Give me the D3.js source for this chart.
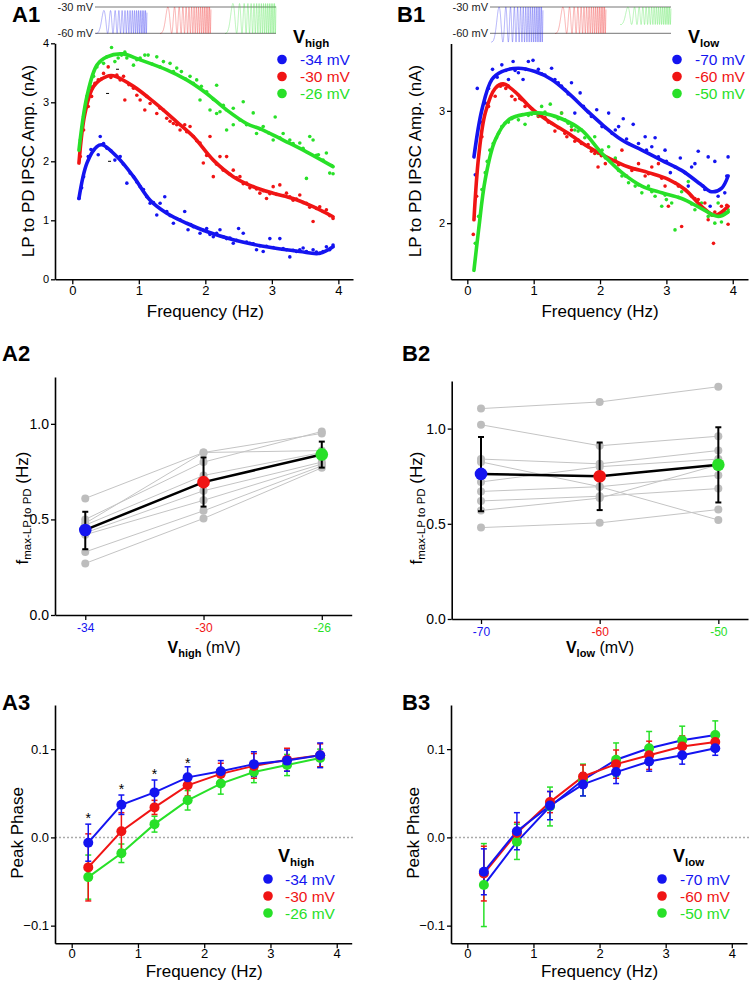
<!DOCTYPE html>
<html><head><meta charset="utf-8">
<script src="https://cdn.jsdelivr.net/npm/d3@7"></script>
<style>body{margin:0;background:#fff}svg{display:block;font-family:Arial,"Liberation Sans",sans-serif}</style>
</head><body><svg id="c" width="750" height="982"></svg>
<script>
const BLUE="#1414f0", RED="#f01414", GREEN="#28e028";
const freqTicks=[0,1,2,3,4];
// ---------- A1 ----------
const a1Labels=["-34 mV","-30 mV","-26 mV"];
const a1FitBlue=[[0.1,1.37],[0.22,1.97],[0.37,2.25],[0.45,2.28],[0.67,2.08],[0.92,1.74],[1.17,1.34],[1.42,1.12],[1.72,0.95],[2.02,0.81],[2.42,0.67],[2.92,0.55],[3.42,0.47],[3.72,0.44],[3.92,0.55]];
const a1FitRed=[[0.1,1.97],[0.19,2.81],[0.32,3.27],[0.52,3.44],[0.62,3.45],[0.92,3.27],[1.22,3.01],[1.57,2.67],[1.82,2.42],[2.12,2.02],[2.42,1.74],[2.72,1.57],[3.02,1.46],[3.32,1.37],[3.62,1.23],[3.92,1.06]];
const a1FitGreen=[[0.1,2.19],[0.22,3.1],[0.37,3.63],[0.52,3.77],[0.75,3.82],[1.02,3.72],[1.42,3.55],[1.72,3.38],[2.02,3.15],[2.32,2.87],[2.62,2.64],[2.87,2.53],[3.17,2.36],[3.52,2.16],[3.92,1.91]];
const a1PtsBlue=[[0.1,1.37],[0.17,1.74],[0.24,2.08],[0.32,2.19],[0.39,2.11],[0.42,2.42],[0.52,2.22],[0.64,2.02],[0.72,2.08],[0.82,1.63],[0.92,1.74],[1.02,1.57],[1.12,1.4],[1.17,1.29],[1.27,1.09],[1.32,1.29],[1.39,1.4],[1.42,1.15],[1.52,0.95],[1.62,1.01],[1.69,1.15],[1.74,0.84],[1.82,0.89],[1.92,0.78],[2.02,0.86],[2.12,0.72],[2.22,0.84],[2.32,0.69],[2.42,0.61],[2.5,0.86],[2.57,0.78],[2.67,0.61],[2.77,0.5],[2.87,0.47],[2.97,0.69],[3.12,0.69],[3.22,0.5],[3.27,0.38],[3.37,0.47],[3.47,0.53],[3.62,0.5],[3.72,0.44],[3.82,0.55],[3.87,0.5],[3.92,0.58],[0.14,1.55],[0.28,2.2],[0.47,2.3],[0.58,2.18],[0.77,1.95],[0.87,1.8],[0.97,1.65],[1.07,1.52],[1.22,1.3],[1.47,1.08],[1.57,1.03],[1.78,0.93],[1.97,0.83],[2.07,0.76],[2.17,0.78],[2.27,0.72],[2.37,0.7],[2.47,0.66],[2.62,0.63],[2.72,0.6],[2.82,0.57],[2.92,0.56],[3.02,0.54],[3.17,0.52],[3.32,0.49],[3.42,0.5],[3.52,0.47],[3.67,0.46],[3.77,0.47]];
const a1PtsRed=[[0.12,2.08],[0.17,2.53],[0.24,2.93],[0.29,3.1],[0.34,3.32],[0.39,3.38],[0.47,3.49],[0.54,3.6],[0.67,3.46],[0.77,3.44],[0.79,3.04],[0.92,3.24],[0.97,3.12],[1.02,3.04],[1.09,2.87],[1.17,2.98],[1.27,2.81],[1.37,2.87],[1.42,2.73],[1.52,2.64],[1.62,2.53],[1.69,2.62],[1.77,2.59],[1.82,2.42],[1.92,2.31],[2.07,2.42],[1.97,1.97],[2.12,1.74],[2.22,2.08],[2.32,2.08],[2.42,1.85],[2.52,1.74],[2.62,1.63],[2.72,1.57],[2.82,1.46],[2.92,1.37],[3.02,1.57],[3.12,1.6],[3.22,1.46],[3.32,1.34],[3.42,1.43],[3.52,1.29],[3.62,0.98],[3.72,1.23],[3.82,1.18],[3.92,1.03],[0.44,3.4],[0.58,3.42],[0.72,3.38],[0.85,3.3],[1.12,3.1],[1.32,2.9],[1.47,2.68],[1.57,2.62],[1.72,2.5],[1.87,2.35],[2.02,2.1],[2.17,1.95],[2.27,1.85],[2.37,1.78],[2.47,1.72],[2.57,1.62],[2.67,1.55],[2.77,1.53],[2.87,1.5],[2.97,1.45],[3.07,1.44],[3.17,1.42],[3.27,1.4],[3.37,1.36],[3.47,1.3],[3.57,1.22],[3.67,1.2],[3.77,1.15],[3.87,1.08]];
const a1PtsGreen=[[0.12,2.36],[0.17,2.76],[0.22,3.1],[0.27,3.27],[0.32,3.44],[0.37,3.6],[0.42,3.69],[0.47,3.66],[0.52,3.77],[0.59,3.93],[0.64,3.69],[0.69,3.75],[0.79,3.85],[0.82,3.75],[0.92,3.63],[1.02,3.75],[1.09,3.8],[1.14,3.8],[1.27,3.77],[1.37,3.69],[1.47,3.66],[1.57,3.58],[1.64,3.52],[1.77,3.44],[1.87,3.38],[1.94,3.27],[2.02,3.18],[2.17,3.29],[1.92,3.04],[2.07,2.87],[2.17,2.81],[2.22,2.84],[2.42,2.9],[2.57,3.01],[2.72,2.82],[2.87,2.59],[3.05,2.75],[3.17,2.47],[3.27,2.36],[3.42,2.31],[3.57,2.42],[3.62,2.36],[3.7,2.11],[3.82,2.14],[3.52,1.71],[3.87,1.8],[3.92,1.79],[3.02,2.36],[2.77,2.47],[2.42,2.62],[2.32,2.53],[0.74,3.8],[0.97,3.72],[1.2,3.65],[1.32,3.6],[1.52,3.52],[1.7,3.4],[1.82,3.32],[2.12,3.05],[2.27,2.95],[2.52,2.7],[2.62,2.62],[2.82,2.55],[2.95,2.48],[3.12,2.4],[3.32,2.3],[3.47,2.22],[3.67,2.1],[3.77,2.02],[3.9,1.93]];
const a1BlackMarks=[[0.53,3.15],[0.68,3.56],[0.56,2.0]];
// ---------- B1 ----------
const b1Labels=["-70 mV","-60 mV","-50 mV"];
const b1FitBlue=[[0.1,2.59],[0.22,3.01],[0.37,3.28],[0.52,3.35],[0.77,3.38],[1.02,3.35],[1.27,3.28],[1.52,3.16],[1.77,3.02],[2.03,2.88],[2.33,2.74],[2.63,2.65],[2.93,2.56],[3.23,2.47],[3.53,2.34],[3.68,2.28],[3.83,2.31],[3.93,2.42]];
const b1FitRed=[[0.1,2.03],[0.17,2.59],[0.27,2.98],[0.42,3.2],[0.54,3.24],[0.72,3.17],[0.97,3.02],[1.22,2.91],[1.52,2.8],[1.82,2.68],[2.13,2.58],[2.43,2.5],[2.73,2.45],[3.03,2.39],[3.28,2.3],[3.53,2.15],[3.73,2.07],[3.93,2.15]];
const b1FitGreen=[[0.1,1.58],[0.17,1.94],[0.27,2.39],[0.42,2.74],[0.62,2.92],[0.87,2.97],[1.12,2.98],[1.42,2.93],[1.72,2.83],[2.03,2.62],[2.33,2.45],[2.63,2.33],[2.93,2.27],[3.23,2.22],[3.53,2.13],[3.78,2.06],[3.93,2.1]];
const b1PtsBlue=[[0.12,2.43],[0.15,3.2],[0.27,3.07],[0.38,3.37],[0.52,3.41],[0.62,3.28],[0.69,3.44],[0.77,3.34],[0.84,3.28],[0.92,3.44],[0.99,3.45],[1.07,3.37],[1.17,3.32],[1.27,3.38],[1.37,3.25],[1.47,3.19],[1.57,3.25],[1.62,2.98],[1.7,3.16],[1.75,3.04],[1.82,2.99],[1.87,2.95],[1.95,3.01],[2.03,2.86],[2.13,2.98],[2.23,2.83],[2.28,2.86],[2.35,2.93],[2.43,2.71],[2.5,2.88],[2.58,2.71],[2.68,2.77],[2.78,2.68],[2.83,2.76],[2.88,2.59],[2.98,2.65],[3.06,2.45],[3.13,2.5],[3.21,2.58],[3.33,2.33],[3.38,2.5],[3.43,2.53],[3.48,2.64],[3.58,2.3],[3.63,2.59],[3.66,2.15],[3.73,2.55],[3.78,2.24],[3.83,2.09],[3.88,2.27],[3.93,2.59],[3.91,2.42],[0.2,2.9],[0.32,3.2],[0.45,3.3],[0.58,3.36],[0.72,3.36],[0.88,3.37],[1.12,3.33],[1.32,3.28],[1.42,3.22],[1.52,3.15],[2.08,2.85],[2.18,2.8],[2.4,2.75],[2.7,2.65],[3.0,2.55],[3.28,2.45],[3.55,2.33]];
const b1PtsRed=[[0.09,1.9],[0.14,2.24],[0.22,2.77],[0.32,3.04],[0.42,3.13],[0.54,3.23],[0.62,3.22],[0.67,3.13],[0.72,3.1],[0.79,3.11],[0.87,3.04],[0.97,3.02],[1.07,2.95],[1.17,2.94],[1.27,2.89],[1.37,2.85],[1.42,2.98],[1.5,2.77],[1.57,2.83],[1.62,2.73],[1.72,2.71],[1.82,2.7],[1.92,2.62],[1.97,2.5],[2.08,2.53],[2.23,2.56],[2.33,2.65],[2.4,2.42],[2.48,2.47],[2.58,2.53],[2.68,2.42],[2.78,2.5],[2.88,2.53],[2.98,2.33],[3.03,2.15],[3.13,2.36],[3.23,1.97],[3.28,2.3],[3.38,2.24],[3.48,2.21],[3.58,2.18],[3.63,2.03],[3.71,1.82],[3.73,2.1],[3.83,2.15],[3.93,1.99],[3.91,2.16],[0.5,3.22],[0.58,3.2],[0.82,3.1],[1.02,2.98],[1.22,2.9],[1.32,2.82],[1.47,2.8],[1.67,2.74],[1.87,2.64],[2.02,2.6],[2.18,2.55],[2.28,2.52],[2.53,2.48],[2.73,2.44],[2.93,2.4],[3.18,2.33],[3.43,2.22],[3.53,2.14]];
const b1PtsGreen=[[0.12,1.82],[0.17,2.06],[0.22,2.3],[0.27,2.45],[0.34,2.65],[0.39,2.71],[0.47,2.8],[0.57,2.89],[0.67,2.93],[0.77,2.92],[0.87,2.88],[0.92,2.96],[1.02,2.98],[1.12,3.04],[1.25,3.06],[1.32,2.95],[1.42,2.98],[1.52,2.89],[1.62,2.83],[1.72,2.83],[1.82,2.68],[1.92,2.77],[2.03,2.65],[2.13,2.68],[2.23,2.58],[2.33,2.42],[2.43,2.36],[2.53,2.33],[2.63,2.27],[2.73,2.33],[2.83,2.24],[2.93,2.15],[3.0,2.21],[3.08,2.18],[3.13,1.94],[3.23,2.28],[3.33,2.37],[3.43,2.12],[3.53,2.18],[3.63,2.06],[3.73,2.0],[3.78,2.18],[3.83,2.01],[3.88,2.1],[3.93,2.12],[0.3,2.55],[0.44,2.76],[0.52,2.86],[0.62,2.9],[0.72,2.95],[0.97,2.97],[1.07,2.96],[1.17,2.99],[1.37,2.93],[1.47,2.92],[1.57,2.86],[1.67,2.82],[1.77,2.76],[1.97,2.62],[2.08,2.58],[2.28,2.47],[2.38,2.42],[2.58,2.34],[2.78,2.28],[2.98,2.25],[3.18,2.23],[3.38,2.17],[3.58,2.12],[3.68,2.07]];
// ---------- A2 ----------
const a2Cats=["-34","-30","-26"];
const a2Cells=[[0.61,0.85,0.86],[0.50,0.80,0.96],[0.48,0.85,0.95],[0.47,0.73,0.85],[0.43,0.65,0.80],[0.42,0.60,0.79],[0.33,0.545,0.78],[0.27,0.505,0.77]];
const a2Mean=[0.445,0.695,0.84];
const a2Lo=[0.344,0.567,0.771];
const a2Hi=[0.54,0.824,0.907];
// ---------- B2 ----------
const b2Cats=["-70","-60","-50"];
const b2Cells=[[1.105,1.14,1.22],[1.02,0.91,0.96],[0.84,0.815,0.885],[0.825,0.695,0.52],[0.72,0.80,0.84],[0.67,0.695,0.755],[0.62,0.645,0.685],[0.57,0.635,0.81],[0.48,0.505,0.575]];
const b2Mean=[0.762,0.75,0.81];
const b2Lo=[0.566,0.572,0.612];
const b2Hi=[0.956,0.927,1.007];
// ---------- A3 ----------
const phaseFreqs=[0.25,0.75,1.25,1.75,2.25,2.75,3.25,3.75];
const a3Blue=[-0.006,0.037,0.051,0.068,0.075,0.083,0.087,0.093];
const a3BlueErr=[0.021,0.011,0.014,0.012,0.012,0.014,0.012,0.014];
const a3Red=[-0.034,0.007,0.034,0.059,0.072,0.081,0.088,0.093];
const a3RedErr=[0.038,0.021,0.008,0.012,0.012,0.014,0.013,0.013];
const a3Green=[-0.045,-0.018,0.015,0.042,0.061,0.074,0.082,0.09];
const a3GreenErr=[0.025,0.0105,0.009,0.011,0.012,0.012,0.012,0.01];
const a3StarFreqs=[0.25,0.75,1.25,1.75];
const a3StarVals=[0.0234,0.0556,0.0726,0.0858];
// ---------- B3 ----------
const b3Blue=[-0.039,0.007,0.036,0.06,0.074,0.086,0.093,0.101];
const b3BlueErr=[0.026,0.021,0.016,0.013,0.013,0.011,0.01,0.008];
const b3Red=[-0.041,0.005,0.04,0.069,0.083,0.093,0.103,0.108];
const b3RedErr=[0.031,0.012,0.012,0.013,0.016,0.016,0.012,0.01];
const b3Green=[-0.054,-0.005,0.035,0.065,0.088,0.101,0.11,0.116];
const b3GreenErr=[0.047,0.02,0.022,0.018,0.019,0.019,0.016,0.016];
// stimulus insets (mV)
const insetA=[{lo:-60,hi:-34,c:BLUE},{lo:-60,hi:-30,c:RED},{lo:-60,hi:-26,c:GREEN}];
const insetB=[{lo:-70,hi:-30,c:BLUE},{lo:-60,hi:-30,c:RED},{lo:-50,hi:-30,c:GREEN}];

const svg=d3.select("#c");
const AX=1.6;

function styleAxis(g,fs){
  g.select(".domain").attr("stroke","#000").attr("stroke-width",AX);
  g.selectAll(".tick line").attr("stroke","#000").attr("stroke-width",AX*0.8);
  g.selectAll(".tick text").attr("fill","#000").attr("font-size",fs).attr("font-family","Arial, Liberation Sans, sans-serif");
}
function yAxis(x0,y,ticks,fmt,fs){
  const g=svg.append("g").attr("transform",`translate(${x0},0)`)
    .call(d3.axisLeft(y).tickValues(ticks).tickFormat(fmt).tickSize(4).tickSizeOuter(0));
  styleAxis(g,fs); g.selectAll(".tick text").attr("x",-6);
}
function xAxis(y0,x,ticks,fmt,fs,ty){
  const g=svg.append("g").attr("transform",`translate(0,${y0})`)
    .call(d3.axisBottom(x).tickValues(ticks).tickFormat(fmt).tickSize(5).tickSizeOuter(0));
  styleAxis(g,fs); g.selectAll(".tick text").attr("y",ty||7);
  return g;
}
function label(txt,x,y,opt={}){
  const t=svg.append("text").attr("x",x).attr("y",y).text(txt)
    .attr("font-size",opt.fs||17).attr("text-anchor",opt.anchor||"start")
    .attr("font-weight",opt.bold?"bold":"normal").attr("fill",opt.fill||"#000");
  if(opt.rot) t.attr("transform",`rotate(-90,${x},${y})`);
  return t;
}
function vLabel(x,y,main,sub,rest,anchor){
  const t=svg.append("text").attr("x",x).attr("y",y).attr("text-anchor",anchor||"middle").attr("font-size",16);
  t.append("tspan").text(main).attr("font-weight","bold");
  t.append("tspan").text(sub).attr("font-weight","bold").attr("font-size",11).attr("dy",4);
  if(rest) t.append("tspan").text(rest).attr("dy",-4);
  return t;
}
function legendTitle(x,y,main,sub){
  const t=svg.append("text").attr("x",x).attr("y",y).attr("font-size",18).attr("font-weight","bold");
  t.append("tspan").text(main);
  t.append("tspan").text(sub).attr("font-size",11.5).attr("dy",4);
}
function legend(dotX,textX,rows,labels,colors){
  labels.forEach((l,i)=>{
    svg.append("circle").attr("cx",dotX).attr("cy",rows[i]).attr("r",4.8).attr("fill",colors[i]);
    svg.append("text").attr("x",textX).attr("y",rows[i]+5.5).attr("font-size",15.5).attr("fill",colors[i]).text(l);
  });
}

// ---------- panel labels ----------
[["A1",12,22],["B1",397,22],["A2",2,361],["B2",402,361],["A3",2,710],["B3",402,710]].forEach(d=>label(d[0],d[1],d[2],{fs:22,bold:true}));

// ---------- stimulus insets (schematic chirp stimulus) ----------
function inset(x0,x1,labX,specs,segs){
  const mv=d3.scaleLinear().domain([-60,-30]).range([33.3,7]);
  [-30,-60].forEach(v=>{
    svg.append("line").attr("x1",x0).attr("x2",x1).attr("y1",mv(v)).attr("y2",mv(v)).attr("stroke","#666").attr("stroke-width",0.9);
    svg.append("text").attr("x",labX).attr("y",mv(v)+4).attr("text-anchor","end").attr("font-size",11).attr("fill","#222").text(v+" mV");
  });
  specs.forEach((s,i)=>{
    const [sx0,sx1]=segs[i];
    const n=1400, pts=[];
    for(let k=0;k<=n;k++){
      const t=k/n; const ph=2*Math.PI*8*(0.1*t+3.9*t*t/2);
      const v=(s.lo+s.hi)/2-(s.hi-s.lo)/2*Math.cos(ph);
      pts.push([sx0+(sx1-sx0)*t,mv(v)]);
    }
    svg.append("path").attr("d",d3.line()(pts)).attr("fill","none").attr("stroke",s.c).attr("stroke-opacity",0.45).attr("stroke-width",0.7);
  });
}
inset(95,276,93,insetA,[[96,147],[160,211],[225,276]]);
inset(490,671,488,insetB,[[491,543],[555,606],[620,671]]);

// ---------- A1 / B1 ----------
function ampPanel(cfg){
  const x=d3.scaleLinear().domain(cfg.xd).range(cfg.xr);
  const y=d3.scaleLinear().domain(cfg.yd).range([279.3,cfg.ytop]);
  const line=d3.line().x(d=>x(d[0])).y(d=>y(d[1])).curve(d3.curveCatmullRom.alpha(0.5));
  cfg.pts.forEach((p,i)=>{
    svg.append("g").selectAll("circle").data(p).join("circle")
      .attr("cx",d=>x(d[0])).attr("cy",d=>y(d[1])).attr("r",1.8).attr("fill",cfg.colors[i]);
  });
  if(cfg.marks){
    svg.append("g").selectAll("line").data(cfg.marks).join("line")
      .attr("x1",d=>x(d[0])-1.5).attr("x2",d=>x(d[0])+1.5).attr("y1",d=>y(d[1])).attr("y2",d=>y(d[1]))
      .attr("stroke","#000").attr("stroke-width",1);
  }
  cfg.fits.forEach((f,i)=>{
    svg.append("path").attr("d",line(f)).attr("fill","none").attr("stroke",cfg.colors[i]).attr("stroke-width",3.6).attr("stroke-linecap","round");
  });
  yAxis(cfg.xr[0],y,cfg.yt,d3.format("d"),11);
  xAxis(279.3,x,freqTicks,d3.format("d"),13,6);
  label("Frequency (Hz)",(x(0)+x(4))/2,317,{anchor:"middle"});
  label("LP to PD IPSC Amp. (nA)",cfg.ylx,161,{anchor:"middle",rot:true});
}
ampPanel({xd:[-0.26,4.22],xr:[55,353],yd:[0,4],ytop:43.3,yt:[0,1,2,3,4],colors:[BLUE,RED,GREEN],
  pts:[a1PtsBlue,a1PtsRed,a1PtsGreen],fits:[a1FitBlue,a1FitRed,a1FitGreen],ylx:34,marks:a1BlackMarks});
ampPanel({xd:[-0.246,4.23],xr:[451,748],yd:[1.5,3.6],ytop:43.5,yt:[2,3],colors:[BLUE,RED,GREEN],
  pts:[b1PtsBlue,b1PtsRed,b1PtsGreen],fits:[b1FitBlue,b1FitRed,b1FitGreen],ylx:421});
legendTitle(293,43,"V","high");
legend(282,300,[59.5,76.5,93.5],a1Labels,[BLUE,RED,GREEN]);
legendTitle(688,43,"V","low");
legend(677,695,[59.5,76.5,93.5],b1Labels,[BLUE,RED,GREEN]);

// ---------- A2 / B2 ----------
function fPanel(cfg){
  const x=d3.scaleLinear().domain(cfg.xd).range(cfg.xr);
  const y=d3.scaleLinear().domain(cfg.yd).range([cfg.ybot,cfg.ytop]);
  const ln=d3.line().x((d,i)=>x(i)).y(d=>y(d));
  cfg.cells.forEach(c=>{
    svg.append("path").attr("d",ln(c)).attr("fill","none").attr("stroke","#c4c4c4").attr("stroke-width",1);
  });
  cfg.cells.forEach(c=>{
    svg.append("g").selectAll("circle").data(c).join("circle").attr("cx",(d,i)=>x(i)).attr("cy",d=>y(d)).attr("r",4).attr("fill","#bdbdbd");
  });
  svg.append("path").attr("d",ln(cfg.mean)).attr("fill","none").attr("stroke","#000").attr("stroke-width",2.5);
  cfg.mean.forEach((m,i)=>{
    const g=svg.append("g").attr("stroke","#000").attr("stroke-width",2);
    g.append("line").attr("x1",x(i)).attr("x2",x(i)).attr("y1",y(cfg.lo[i])).attr("y2",y(cfg.hi[i]));
    [cfg.lo[i],cfg.hi[i]].forEach(v=>g.append("line").attr("x1",x(i)-3).attr("x2",x(i)+3).attr("y1",y(v)).attr("y2",y(v)));
  });
  svg.append("g").selectAll("circle").data(cfg.mean).join("circle").attr("cx",(d,i)=>x(i)).attr("cy",d=>y(d)).attr("r",6.3).attr("fill",(d,i)=>cfg.colors[i]);
  yAxis(cfg.xr[0],y,[0,0.5,1],d3.format(".1f"),14);
  const gx=xAxis(cfg.ybot,x,[0,1,2],i=>cfg.cats[i],12,8);
  gx.selectAll(".tick text").attr("fill",(d,i)=>cfg.colors[i]);
  const t=svg.append("text").attr("transform",`translate(${cfg.ylx},${cfg.yly}) rotate(-90)`).attr("text-anchor","middle").attr("font-size",17);
  t.append("tspan").text("f");
  t.append("tspan").text("max-LP to PD").attr("font-size",11.5).attr("dy",3);
  t.append("tspan").text(" (Hz)").attr("dy",-3);
}
fPanel({xd:[-0.256,2.253],xr:[55,351.7],yd:[0,1.245],ybot:615,ytop:377,cells:a2Cells,mean:a2Mean,lo:a2Lo,hi:a2Hi,
  colors:[BLUE,RED,GREEN],cats:a2Cats,ylx:28,yly:508});
fPanel({xd:[-0.247,2.25],xr:[451.7,748],yd:[0,1.25],ybot:619,ytop:381,cells:b2Cells,mean:b2Mean,lo:b2Lo,hi:b2Hi,
  colors:[BLUE,RED,GREEN],cats:b2Cats,ylx:422,yly:508});
vLabel(204,653,"V","high"," (mV)");
vLabel(600,653,"V","low"," (mV)");

// ---------- A3 / B3 ----------
function phasePanel(cfg){
  const x=d3.scaleLinear().domain(cfg.xd).range(cfg.xr);
  const y=d3.scaleLinear().domain([-0.12,0.15]).range([943.3,705]);
  svg.append("line").attr("x1",cfg.xr[0]).attr("x2",cfg.zEnd).attr("y1",y(0)).attr("y2",y(0))
    .attr("stroke","#aaa").attr("stroke-width",1.5).attr("stroke-dasharray","2,2");
  const ln=d3.line().x((d,i)=>x(phaseFreqs[i])).y(d=>y(d));
  cfg.series.forEach(s=>{
    svg.append("path").attr("d",ln(s.v)).attr("fill","none").attr("stroke",s.lc).attr("stroke-width",2);
  });
  cfg.series.forEach(s=>{
    const g=svg.append("g").attr("stroke",s.c).attr("stroke-width",1.5);
    s.v.forEach((v,i)=>{
      const xx=x(phaseFreqs[i]);
      g.append("line").attr("x1",xx).attr("x2",xx).attr("y1",y(v-s.e[i])).attr("y2",y(v+s.e[i]));
      [v-s.e[i],v+s.e[i]].forEach(w=>g.append("line").attr("x1",xx-3).attr("x2",xx+3).attr("y1",y(w)).attr("y2",y(w)));
    });
  });
  cfg.series.forEach(s=>{
    svg.append("g").selectAll("circle").data(s.v).join("circle").attr("cx",(d,i)=>x(phaseFreqs[i])).attr("cy",d=>y(d)).attr("r",5).attr("fill",s.c);
  });
  if(cfg.stars){
    cfg.stars.f.forEach((f,i)=>svg.append("text").attr("x",x(f)).attr("y",y(cfg.stars.v[i])+6).attr("text-anchor","middle").attr("font-size",14).text("*"));
  }
  yAxis(cfg.xr[0],y,[-0.1,0,0.1],d3.format(".1f"),13);
  xAxis(943.3,x,freqTicks,d3.format("d"),13,5);
  label("Frequency (Hz)",(x(0)+x(4))/2,977,{anchor:"middle"});
  label("Peak Phase",cfg.ylx,833,{anchor:"middle",rot:true});
}
phasePanel({xd:[-0.252,4.226],xr:[55,351.7],zEnd:353,ylx:23,
  series:[{v:a3Green,e:a3GreenErr,c:GREEN,lc:GREEN},{v:a3Red,e:a3RedErr,c:RED,lc:RED},{v:a3Blue,e:a3BlueErr,c:BLUE,lc:BLUE}],
  stars:{f:a3StarFreqs,v:a3StarVals}});
phasePanel({xd:[-0.247,4.23],xr:[451,747],zEnd:750,ylx:419,
  series:[{v:b3Green,e:b3GreenErr,c:GREEN,lc:BLUE},{v:b3Red,e:b3RedErr,c:RED,lc:RED},{v:b3Blue,e:b3BlueErr,c:BLUE,lc:BLUE}]});
legendTitle(278,862,"V","high");
legend(268,285,[879,896,913],a1Labels,[BLUE,RED,GREEN]);
legendTitle(673,862,"V","low");
legend(662,680,[879,896,913],b1Labels,[BLUE,RED,GREEN]);
</script></body></html>
